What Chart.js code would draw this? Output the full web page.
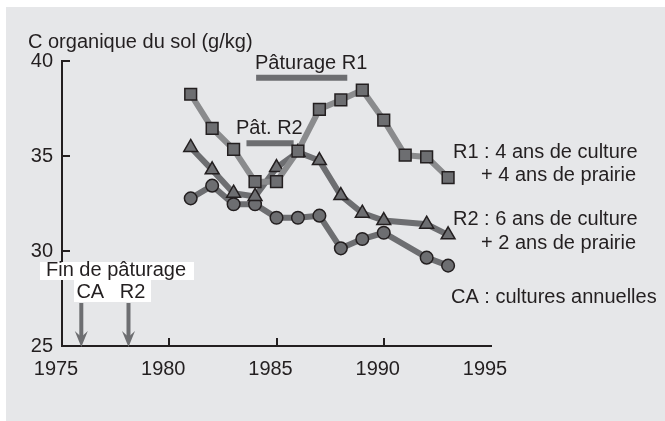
<!DOCTYPE html>
<html>
<head>
<meta charset="utf-8">
<script src="https://cdn.jsdelivr.net/npm/chart.js@4/dist/chart.umd.min.js"></script>
<style>
  html, body { margin: 0; padding: 0; background: #ffffff; }
  #wrap { position: relative; width: 665px; height: 421px; overflow: hidden; }
  #panel { position: absolute; left: 6px; top: 7px; width: 659px; height: 414px; background: #e6e7e9; }
  #c { position: absolute; left: 0; top: 0; }
</style>
</head>
<body>
<div id="wrap">
  <div id="panel"></div>
  <canvas id="c" width="665" height="421"></canvas>
</div>
<script>
// ---- data ----
const yearsR1 = [1981, 1982, 1983, 1984, 1985, 1986, 1987, 1988, 1989, 1990, 1991, 1992, 1993];
const valuesR1 = [38.25, 36.46, 35.35, 33.65, 33.65, 35.26, 37.46, 37.95, 38.47, 36.89, 35.04, 34.95, 33.86];

const yearsR2 = [1981, 1982, 1983, 1984, 1985, 1986, 1987, 1988, 1989, 1990, 1992, 1993];
const valuesR2 = [35.45, 34.27, 33.04, 32.87, 34.39, 35.2, 34.76, 32.92, 31.99, 31.6, 31.41, 30.85];

const yearsCA = [1981, 1982, 1983, 1984, 1985, 1986, 1987, 1988, 1989, 1990, 1992, 1993];
const valuesCA = [32.77, 33.44, 32.46, 32.46, 31.75, 31.75, 31.86, 30.14, 30.63, 30.96, 29.65, 29.23];

// grazing periods (start, end year) and the level at which their bar is drawn
const grazingR1Years = [1984.05, 1988.3];
const grazingR1Level = [39.12, 39.12];
const grazingR2Years = [1983.6, 1985.8];
const grazingR2Level = [35.67, 35.67];

// end-of-grazing arrows
const arrowLabels = ["CA", "R2"];
const arrowYears = [1975.9, 1978.1];

const xTicks = [1975, 1980, 1985, 1990, 1995];
const yTicks = [25, 30, 35, 40];

const yTitle = "C organique du sol (g/kg)";
const seriesNotes = [
  ["R1 : 4 ans de culture", "+ 4 ans de prairie"],
  ["R2 : 6 ans de culture", "+ 2 ans de prairie"],
  ["CA : cultures annuelles"]
];

// ---- styles ----
const TXT = "#231f20";
const MARK = "#6d6e71";
const LINE_R1 = "#8a8b8d";
const LINE_DARK = "#6d6e71";
const FONT = "Liberation Sans, Arial, sans-serif";
const FS = 20;

function pts(xs, ys) { return xs.map((x, i) => ({ x: x, y: ys[i] })); }

const annotations = {
  id: "annotations",
  afterDraw(chart) {
    const ctx = chart.ctx;
    const xs = chart.scales.x, ys = chart.scales.y;
    const area = chart.chartArea;
    ctx.save();
    // inward ticks
    ctx.strokeStyle = TXT;
    ctx.lineWidth = 2;
    yTicks.slice(1).forEach(v => {
      const p = Math.round(ys.getPixelForValue(v));
      ctx.beginPath(); ctx.moveTo(area.left, p); ctx.lineTo(area.left + 8, p); ctx.stroke();
    });
    xTicks.slice(1, -1).forEach(v => {
      const p = Math.round(xs.getPixelForValue(v));
      ctx.beginPath(); ctx.moveTo(p, area.bottom); ctx.lineTo(p, area.bottom - 8); ctx.stroke();
    });

    ctx.fillStyle = TXT;
    ctx.font = FS + "px " + FONT;
    ctx.textBaseline = "middle";
    ctx.textAlign = "left";
    // axis title
    ctx.fillText(yTitle, 28, 42);
    // grazing labels
    ctx.fillText("Pâturage R1", 255, 63);
    ctx.fillText("Pât. R2", 236, 128);
    // series notes
    ctx.fillText(seriesNotes[0][0], 453, 152);
    ctx.fillText(seriesNotes[0][1], 481, 175);
    ctx.fillText(seriesNotes[1][0], 453, 219);
    ctx.fillText(seriesNotes[1][1], 481, 243);
    ctx.fillText(seriesNotes[2][0], 451, 297);

    // end-of-grazing box
    ctx.fillStyle = "#ffffff";
    ctx.fillRect(40, 262, 154, 18);
    ctx.fillRect(74, 279, 77, 23);
    ctx.fillStyle = TXT;
    ctx.fillText("Fin de pâturage", 46, 270);
    ctx.textAlign = "center";
    arrowYears.forEach((yr, i) => {
      const px = xs.getPixelForValue(yr);
      const b = area.bottom;
      ctx.fillStyle = TXT;
      ctx.fillText(arrowLabels[i], px + (i === 0 ? 9 : 4), 292);
      // arrow shaft
      ctx.strokeStyle = MARK;
      ctx.lineWidth = 4;
      ctx.beginPath(); ctx.moveTo(px, 303); ctx.lineTo(px, b - 6); ctx.stroke();
      // arrow head
      ctx.fillStyle = MARK;
      ctx.beginPath();
      ctx.moveTo(px, b + 1);
      ctx.lineTo(px - 6.5, b - 15);
      ctx.lineTo(px, b - 9);
      ctx.lineTo(px + 6.5, b - 15);
      ctx.closePath();
      ctx.fill();
    });
    ctx.restore();
  }
};

new Chart(document.getElementById("c"), {
  type: "line",
  data: {
    datasets: [
      {
        label: "R1", data: pts(yearsR1, valuesR1),
        borderColor: LINE_R1, borderWidth: 6, tension: 0,
        pointStyle: "rect", pointRadius: 8.3, pointBackgroundColor: MARK,
        pointBorderColor: TXT, pointBorderWidth: 1.5
      },
      {
        label: "R2", data: pts(yearsR2, valuesR2),
        borderColor: LINE_DARK, borderWidth: 6, tension: 0,
        pointStyle: "triangle", pointRadius: 8, pointBackgroundColor: MARK,
        pointBorderColor: TXT, pointBorderWidth: 1.5
      },
      {
        label: "CA", data: pts(yearsCA, valuesCA),
        borderColor: LINE_DARK, borderWidth: 6, tension: 0,
        pointStyle: "circle", pointRadius: 6.3, pointBackgroundColor: MARK,
        pointBorderColor: TXT, pointBorderWidth: 1.5
      },
      {
        label: "Pâturage R1", data: pts(grazingR1Years, grazingR1Level),
        borderColor: MARK, borderWidth: 6, pointRadius: 0, borderCapStyle: "butt"
      },
      {
        label: "Pât. R2", data: pts(grazingR2Years, grazingR2Level),
        borderColor: MARK, borderWidth: 6, pointRadius: 0, borderCapStyle: "butt"
      }
    ]
  },
  options: {
    responsive: false,
    animation: false,
    devicePixelRatio: 1,
    layout: { padding: { top: 61, right: 174, bottom: 0, left: 0 } },
    plugins: { legend: { display: false }, tooltip: { enabled: false } },
    scales: {
      x: {
        type: "linear", min: 1975, max: 1995,
        afterFit(s) { s.height = 75; },
        afterBuildTicks(s) { s.ticks = xTicks.map(v => ({ value: v })); },
        grid: { display: false, drawTicks: false },
        border: { display: true, color: TXT, width: 2 },
        ticks: {
          color: TXT, font: { size: FS, family: FONT }, padding: 11, labelOffset: -6, maxRotation: 0,
          callback: v => String(v)
        }
      },
      y: {
        type: "linear", min: 25, max: 40,
        afterFit(s) { s.width = 62; },
        afterBuildTicks(s) { s.ticks = yTicks.map(v => ({ value: v })); },
        grid: { display: false, drawTicks: false },
        border: { display: true, color: TXT, width: 2 },
        ticks: { color: TXT, font: { size: FS, family: FONT }, padding: 9, callback: v => String(v) }
      }
    }
  },
  plugins: [annotations]
});
</script>
</body>
</html>
